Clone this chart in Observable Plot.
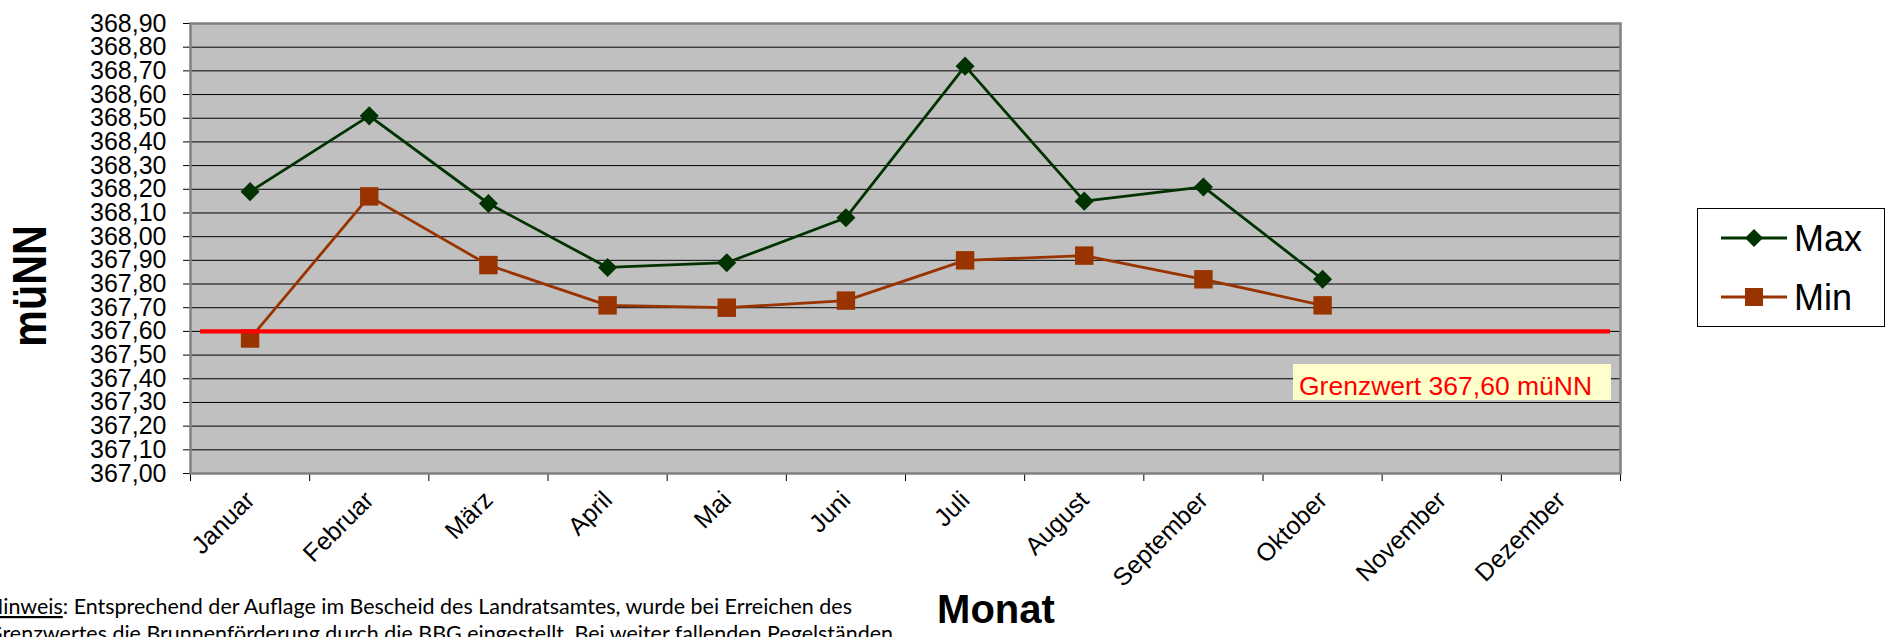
<!DOCTYPE html>
<html>
<head>
<meta charset="utf-8">
<script src="https://cdn.jsdelivr.net/npm/d3@7"></script>
<script src="https://cdn.jsdelivr.net/npm/@observablehq/plot@0.6"></script>
<style>
  html, body { margin: 0; padding: 0; background: #fff; }
  #wrap { position: relative; width: 1888px; height: 637px; overflow: hidden; background: #fff; }
  #wrap > svg { position: absolute; left: 0; top: 0; }
  #overlay { position: absolute; left: 0; top: 0; pointer-events: none; }
</style>
</head>
<body>
<div id="wrap"></div>
<script>
const months = ["Januar", "Februar", "März", "April", "Mai", "Juni", "Juli", "August", "September", "Oktober", "November", "Dezember"];
const maxValues = [368.19, 368.51, 368.14, 367.87, 367.89, 368.08, 368.72, 368.15, 368.21, 367.82];
const minValues = [367.57, 368.17, 367.88, 367.71, 367.70, 367.73, 367.90, 367.92, 367.82, 367.71];
const yTicks = [367.0, 367.1, 367.2, 367.3, 367.4, 367.5, 367.6, 367.7, 367.8, 367.9, 368.0, 368.1, 368.2, 368.3, 368.4, 368.5, 368.6, 368.7, 368.8, 368.9];
const xBoundaries = [0, 1, 2, 3, 4, 5, 6, 7, 8, 9, 10, 11, 12];
const grenzwert = 367.6;
const seriesNames = ["Max", "Min"];
const colors = {Max: "#003300", Min: "#993300"};
const grenzLabel = "Grenzwert 367,60 müNN";
const yTitle = "müNN";
const xTitle = "Monat";
const noteLine1Head = "Hinweis";
const noteLine1 = ": Entsprechend der Auflage im Bescheid des Landratsamtes, wurde bei Erreichen des";
const noteLine2 = "Grenzwertes die Brunnenförderung durch die BBG eingestellt. Bei weiter fallenden Pegelständen";

const maxData = maxValues.map((v, i) => ({pos: i + 0.5, value: v}));
const minData = minValues.map((v, i) => ({pos: i + 0.5, value: v}));
const fmt = v => v.toFixed(2).replace(".", ",");
const FONT = "'Liberation Sans', Arial, Helvetica, sans-serif";

const chart = Plot.plot({
  width: 1888,
  height: 637,
  marginLeft: 190,
  marginRight: 268,
  marginTop: 23,
  marginBottom: 164,
  style: {fontFamily: FONT, fontSize: "25px", color: "#000", background: "transparent", overflow: "visible"},
  x: {domain: [0, 12], ticks: xBoundaries, tickFormat: () => "", tickSize: 8, label: null},
  y: {domain: [367, 368.9], ticks: yTicks, tickFormat: fmt, tickSize: 7, tickPadding: 17, label: null},
  marks: [
    Plot.frame({fill: "#C0C0C0", stroke: null}),
    Plot.ruleY(yTicks.slice(1, -1), {stroke: "#000", strokeWidth: 1}),
    Plot.frame({stroke: "#808080", strokeWidth: 2.5}),
    Plot.text(months, {x: (d, i) => i + 0.5, text: d => d, frameAnchor: "bottom", rotate: -45, textAnchor: "end", dx: 6, dy: 28, fontSize: 25, fill: "#000"}),
    Plot.line(maxData, {x: "pos", y: "value", stroke: colors.Max, strokeWidth: 2.8}),
    Plot.dot(maxData, {x: "pos", y: "value", symbol: "diamond2", r: 8.6, fill: colors.Max, stroke: null}),
    Plot.line(minData, {x: "pos", y: "value", stroke: colors.Min, strokeWidth: 2.8}),
    Plot.dot(minData, {x: "pos", y: "value", symbol: "square", r: 10.4, fill: colors.Min, stroke: null}),
    Plot.ruleY([grenzwert], {stroke: "#FF0000", strokeWidth: 4.3, insetLeft: 10, insetRight: 10})
  ]
});
document.getElementById("wrap").appendChild(chart);

// Overlay: titles, legend, annotation, note
const ns = "http://www.w3.org/2000/svg";
const ov = d3.select("#wrap").append("svg").attr("id", "overlay")
  .attr("xmlns", ns).attr("width", 1888).attr("height", 637)
  .style("font-family", FONT);

// y title
ov.append("text").attr("transform", "translate(46,286) rotate(-90) scale(0.86,1)")
  .attr("text-anchor", "middle").attr("font-weight", "bold").attr("font-size", 48).text(yTitle);
// x title
ov.append("text").attr("x", 996).attr("y", 623).attr("text-anchor", "middle")
  .attr("font-weight", "bold").attr("font-size", 40).text(xTitle);

// Grenzwert label
ov.append("rect").attr("x", 1293).attr("y", 364).attr("width", 318).attr("height", 36).attr("fill", "#FFFFCC");
ov.append("text").attr("x", 1299).attr("y", 395).attr("font-size", 26.5).attr("fill", "#FF0000").text(grenzLabel);

// Legend
ov.append("rect").attr("x", 1697.5).attr("y", 208.5).attr("width", 187).attr("height", 118)
  .attr("fill", "#fff").attr("stroke", "#000").attr("stroke-width", 1);
const legendRows = [{name: seriesNames[0], y: 238}, {name: seriesNames[1], y: 297}];
legendRows.forEach(row => {
  ov.append("line").attr("x1", 1721).attr("x2", 1787).attr("y1", row.y).attr("y2", row.y)
    .attr("stroke", colors[row.name]).attr("stroke-width", 2.8);
  if (row.name === "Max") {
    ov.append("path").attr("d", `M1754,${row.y - 9}L1763,${row.y}L1754,${row.y + 9}L1745,${row.y}Z`).attr("fill", colors.Max);
  } else {
    ov.append("rect").attr("x", 1745).attr("y", row.y - 9).attr("width", 18).attr("height", 18).attr("fill", colors.Min);
  }
  ov.append("text").attr("x", 1794).attr("y", row.y + 13).attr("font-size", 36).text(row.name);
});

// Note text (cut at left and bottom as in the reference)
const NOTEFONT = "Lato, 'Open Sans', sans-serif";
const t1 = ov.append("text").attr("x", -13).attr("y", 614).attr("font-size", 22)
  .attr("textLength", 865).attr("lengthAdjust", "spacingAndGlyphs").style("font-family", NOTEFONT);
t1.append("tspan").attr("text-decoration", "underline").text(noteLine1Head);
t1.append("tspan").text(noteLine1);
ov.append("text").attr("x", -13).attr("y", 641).attr("font-size", 22)
  .attr("textLength", 906).attr("lengthAdjust", "spacingAndGlyphs").style("font-family", NOTEFONT).text(noteLine2);
</script>
</body>
</html>
